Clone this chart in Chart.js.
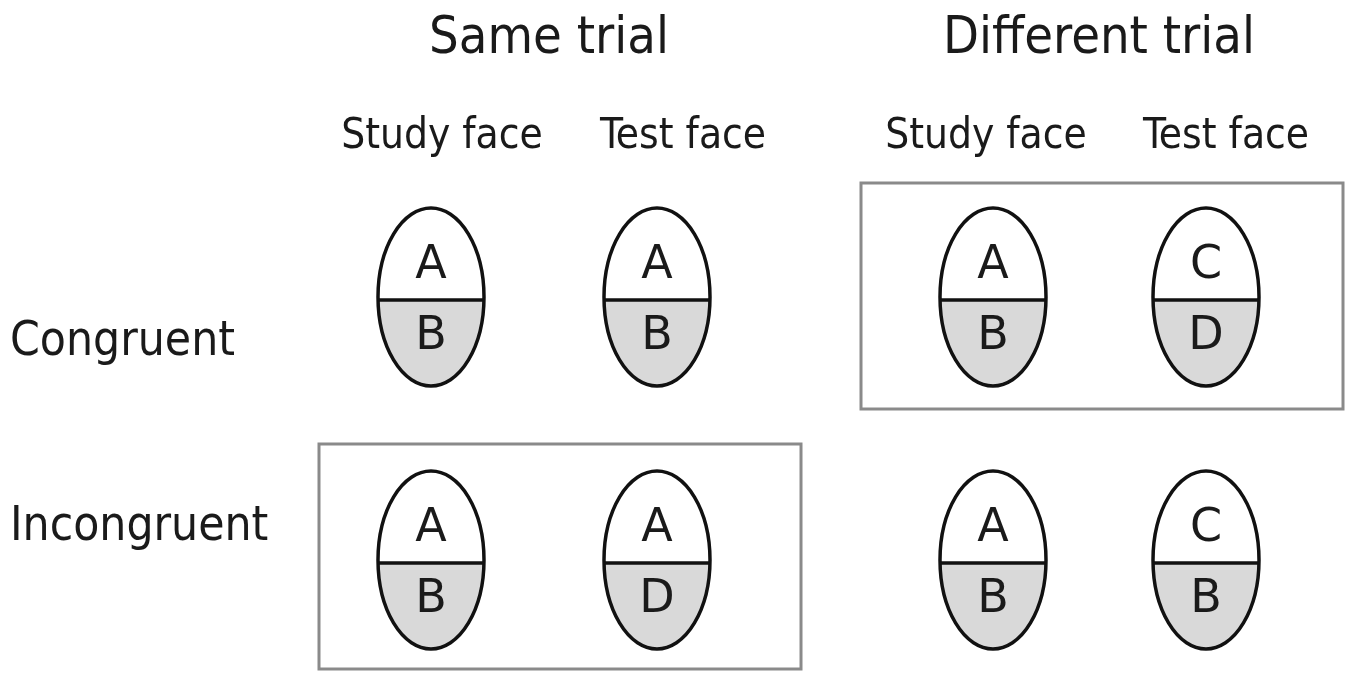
<!DOCTYPE html>
<html lang="en">
<head>
    <meta charset="UTF-8">
    <title>Same / Different trial faces</title>
    <script src="https://cdn.jsdelivr.net/npm/chart.js"></script>
    <style>
        html, body { margin: 0; padding: 0; background: #fff; }
        #wrap { width: 1349px; height: 673px; }
    </style>
</head>
<body>
    <div id="wrap"><canvas id="faceChart" width="1349" height="673"></canvas></div>

    <script>
        // Column / row positions of the faces (in chart units)
        const faceX = [431, 657, 993, 1206];
        const rowY = [297, 560];
        const topLetters = [["A", "A", "A", "C"], ["A", "A", "A", "C"]];
        const bottomLetters = [["B", "B", "B", "D"], ["B", "D", "B", "B"]];

        // Labels
        const groupTitles = ["Same trial", "Different trial"];
        const groupX = [549, 1099];
        const columnLabels = ["Study face", "Test face", "Study face", "Test face"];
        const columnLabelX = [442, 683, 986, 1226];
        const rowLabels = ["Congruent", "Incongruent"];
        const rowLabelY = [355, 540];

        // Highlight boxes: [x0, x1, y0, y1]
        const boxes = [[861, 1343, 183, 409], [319, 801, 444, 669]];

        const faceRx = 53;
        const faceRy = 89;

        const points = [];
        rowY.forEach((y, r) => {
            faceX.forEach((x, c) => {
                points.push({ x: x, y: y, top: topLetters[r][c], bottom: bottomLetters[r][c] });
            });
        });

        const FONT = "'DejaVu Sans Condensed', 'DejaVu Sans', sans-serif";

        const facePlugin = {
            id: "faces",
            afterDatasetsDraw(chart) {
                const ctx = chart.ctx;
                const xs = chart.scales.x;
                const ys = chart.scales.y;
                const meta = chart.getDatasetMeta(0);

                // boxes
                ctx.save();
                ctx.strokeStyle = "#8a8a8a";
                ctx.lineWidth = 3;
                boxes.forEach(b => {
                    const x0 = xs.getPixelForValue(b[0]);
                    const x1 = xs.getPixelForValue(b[1]);
                    const y0 = ys.getPixelForValue(b[2]);
                    const y1 = ys.getPixelForValue(b[3]);
                    ctx.strokeRect(x0, y0, x1 - x0, y1 - y0);
                });
                ctx.restore();

                // faces
                const rx = Math.abs(xs.getPixelForValue(faceRx) - xs.getPixelForValue(0));
                const ry = Math.abs(ys.getPixelForValue(faceRy) - ys.getPixelForValue(0));
                meta.data.forEach((el, i) => {
                    const p = points[i];
                    const cx = el.x, cy = el.y;
                    const split = cy + 3;
                    ctx.save();
                    // bottom gray half
                    ctx.beginPath();
                    ctx.ellipse(cx, cy, rx, ry, 0, 0, Math.PI * 2);
                    ctx.fillStyle = "#fff";
                    ctx.fill();
                    ctx.save();
                    ctx.clip();
                    ctx.fillStyle = "#d9d9d9";
                    ctx.fillRect(cx - rx - 2, split, rx * 2 + 4, ry + 4);
                    ctx.restore();
                    // outline
                    ctx.beginPath();
                    ctx.ellipse(cx, cy, rx, ry, 0, 0, Math.PI * 2);
                    ctx.lineWidth = 3.5;
                    ctx.strokeStyle = "#111";
                    ctx.stroke();
                    // divider
                    const dy = split - cy;
                    const half = rx * Math.sqrt(1 - (dy * dy) / (ry * ry));
                    ctx.beginPath();
                    ctx.moveTo(cx - half, split);
                    ctx.lineTo(cx + half, split);
                    ctx.stroke();
                    // letters
                    ctx.fillStyle = "#1a1a1a";
                    ctx.font = "46px 'DejaVu Sans', sans-serif";
                    ctx.textAlign = "center";
                    ctx.textBaseline = "alphabetic";
                    ctx.fillText(p.top, cx, cy - 19);
                    ctx.fillText(p.bottom, cx, cy + 52);
                    ctx.restore();
                });

                // text labels
                ctx.save();
                ctx.fillStyle = "#1a1a1a";
                ctx.textBaseline = "alphabetic";
                ctx.textAlign = "center";
                ctx.font = "52px " + FONT;
                groupTitles.forEach((t, i) => {
                    ctx.fillText(t, xs.getPixelForValue(groupX[i]), ys.getPixelForValue(53));
                });
                ctx.font = "42px " + FONT;
                columnLabels.forEach((t, i) => {
                    ctx.fillText(t, xs.getPixelForValue(columnLabelX[i]), ys.getPixelForValue(148));
                });
                ctx.textAlign = "left";
                ctx.font = "47.5px " + FONT;
                rowLabels.forEach((t, i) => {
                    ctx.fillText(t, xs.getPixelForValue(10), ys.getPixelForValue(rowLabelY[i]));
                });
                ctx.restore();
            }
        };

        new Chart(document.getElementById("faceChart"), {
            type: "scatter",
            data: {
                datasets: [{
                    data: points.map(p => ({ x: p.x, y: p.y })),
                    pointRadius: 0,
                    pointHoverRadius: 0
                }]
            },
            options: {
                responsive: false,
                animation: false,
                events: [],
                layout: { padding: 0 },
                plugins: { legend: { display: false }, tooltip: { enabled: false } },
                scales: {
                    x: { type: "linear", min: 0, max: 1349, display: false },
                    y: { type: "linear", min: 0, max: 673, reverse: true, display: false }
                }
            },
            plugins: [facePlugin]
        });
    </script>
</body>
</html>
